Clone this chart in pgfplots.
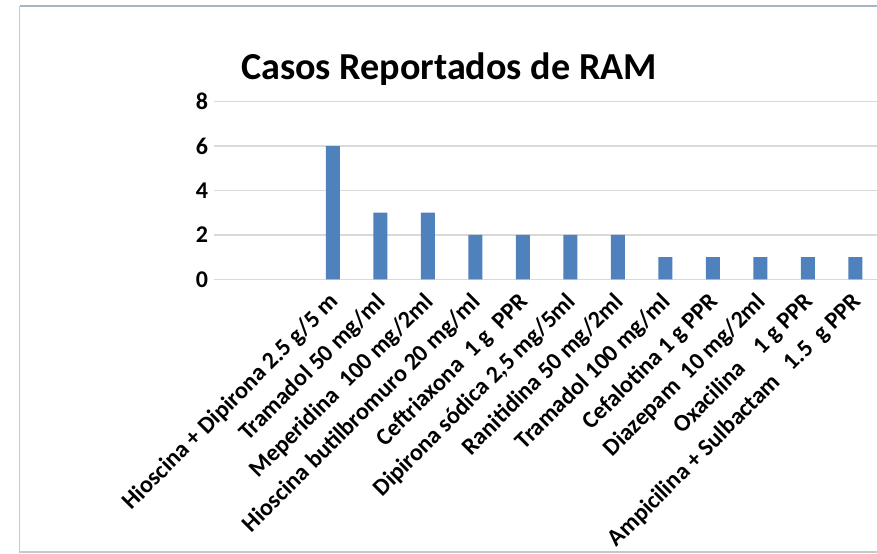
\documentclass[border=0pt]{standalone}
\usepackage{pgfplots}
\pgfplotsset{compat=1.18}
\usepackage{fontspec}
\setmainfont{Carlito}
\definecolor{barblue}{HTML}{4F81BD}
\definecolor{gridgray}{HTML}{D9D9D9}
\definecolor{framegray}{HTML}{C8C8C8}
\definecolor{frameblue}{HTML}{A7B5C8}
\begin{document}
\begin{tikzpicture}[x=0.75pt,y=0.75pt]
\clip (0,0) rectangle (877,553);
\fill[white] (0,0) rectangle (877,553);
\draw[framegray, line width=0.9pt] (880,1) -- (19.5,1) -- (19.5,547);
\draw[frameblue, line width=0.9pt] (19.5,547) -- (880,547);
\node[font=\fontsize{28.6}{32}\selectfont\bfseries, anchor=base] at (449,473) {Casos Reportados de RAM};
\begin{axis}[
  at={(160.5pt,205.3pt)}, anchor=south west,
  scale only axis, width=498.75pt, height=133.2pt,
  xmin=-0.5, xmax=13.5, ymin=0, ymax=8,
  ytick={0,2,4,6,8},
  xtick={0,...,13},
  xticklabels={{},{},Hioscina + Dipirona 2.5 g/5 m,Tramadol 50 mg/ml,Meperidina~~100 mg/2ml,Hioscina butilbromuro 20 mg/ml,Ceftriaxona~~1 g~~PPR,{Dipirona sódica 2,5 mg/5ml},Ranitidina 50 mg/2ml,Tramadol 100 mg/ml,Cefalotina 1 g PPR,Diazepam~~10 mg/2ml,Oxacilina~~~~1 g PPR,Ampicilina + Sulbactam~~~1.5~~g PPR},
  axis line style={draw=none},
  major tick length=0pt,
  ymajorgrids, grid style={gridgray, line width=1pt},
  /pgf/number format/assume math mode=true,
  yticklabel style={font=\fontsize{18}{21}\selectfont\bfseries, xshift=-1pt},
  xticklabel style={font=\fontsize{18}{21}\selectfont\bfseries, xshift=4pt, yshift=-12pt, rotate=45, anchor=east},
  clip=false,
]
\addplot[ybar, bar width=10.5pt, fill=barblue, draw=none, bar shift=0pt] coordinates {
(2,6) (3,3) (4,3) (5,2) (6,2) (7,2) (8,2) (9,1) (10,1) (11,1) (12,1) (13,1)};
\end{axis}
\end{tikzpicture}
\end{document}
